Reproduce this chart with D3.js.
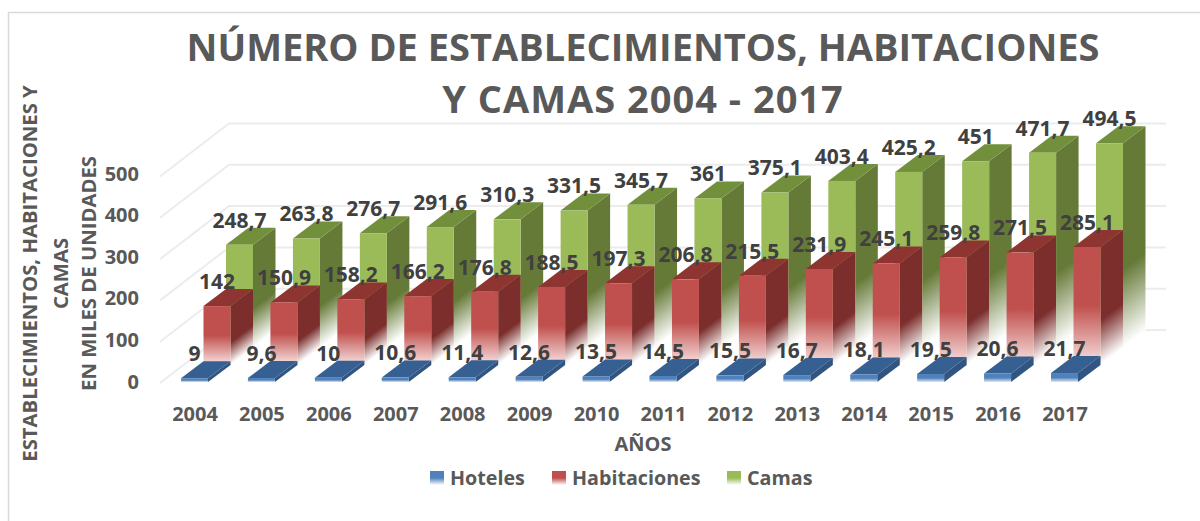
<!DOCTYPE html>
<html><head><meta charset="utf-8">
<script src="https://cdn.jsdelivr.net/npm/d3@7/dist/d3.min.js"></script>
<style>html,body{margin:0;padding:0;background:#fff}svg{display:block}text{font-family:"Open Sans",sans-serif;font-weight:700}</style>
</head><body><svg id="c" width="1200" height="521"></svg>
<script>
const years=["2004","2005","2006","2007","2008","2009","2010","2011","2012","2013","2014","2015","2016","2017"];
const hoteles=[9,9.6,10,10.6,11.4,12.6,13.5,14.5,15.5,16.7,18.1,19.5,20.6,21.7];
const habitaciones=[142,150.9,158.2,166.2,176.8,188.5,197.3,206.8,215.5,231.9,245.1,259.8,271.5,285.1];
const camas=[248.7,263.8,276.7,291.6,310.3,331.5,345.7,361,375.1,403.4,425.2,451,471.7,494.5];
const yTicks=[0,100,200,300,400,500];
const titleLines=["NÚMERO DE ESTABLECIMIENTOS, HABITACIONES","Y CAMAS 2004 - 2017"];
const titleSpacing=[0,1];
const yTitleLines=["ESTABLECIMIENTOS, HABITACIONES Y","CAMAS","EN MILES DE UNIDADES"];
const seriesNames=["Hoteles","Habitaciones","Camas"];
const seriesValues=[hoteles,habitaciones,camas];
const palette={
 Hoteles:{front:"#4f81bd",top:"#376092",side:"#2f5580",fade:"#dfe9f4"},
 Habitaciones:{front:"#c0504d",top:"#8e3431",side:"#7b2e2c",fade:"#f8e3e2"},
 Camas:{front:"#9bbb59",top:"#728f3b",side:"#667a38",fade:"#eef3e0"}
};
const svg=d3.select("#c"),defs=svg.append("defs");
const H=d3.scaleLinear().domain([0,500]).range([0,206.5]);
const X=d3.scalePoint().domain(years).range([181,1051]);
const D=d3.scalePoint().domain(seriesNames).range([0,45]);
const B=d3.scalePoint().domain(seriesNames).range([382,347.5]);
const W=27,DX=22.5,DY=17;
const fmt=v=>String(v).replace(".",",");

svg.append("rect").attr("x",8.5).attr("y",12.5).attr("width",1300).attr("height",600).attr("fill","none").attr("stroke","#d9d9d9").attr("stroke-width",1.5);

const g=svg.append("g").attr("stroke","#ececec").attr("stroke-width",2).attr("fill","none");
yTicks.forEach(t=>{
  const y=330-H(t);
  g.append("polyline").attr("points",`160,${y+53} 229,${y} 1166,${y}`);
});

let gid=0;
function vGrad(color,fade,y0,y1){
  const id="g"+(gid++);
  const gr=defs.append("linearGradient").attr("id",id).attr("gradientUnits","userSpaceOnUse").attr("x1",0).attr("x2",0).attr("y1",y0).attr("y2",y1);
  gr.append("stop").attr("offset","0").attr("stop-color",color);
  gr.append("stop").attr("offset","0.5").attr("stop-color",color);
  gr.append("stop").attr("offset","1").attr("stop-color",fade);
  return `url(#${id})`;
}
function sideGrad(color,x,y0,y1){
  const id="g"+(gid++);
  const gr=defs.append("linearGradient").attr("id",id).attr("gradientUnits","userSpaceOnUse").attr("x1",0).attr("x2",0).attr("y1",y0).attr("y2",y1)
    .attr("gradientTransform",`matrix(1,${-DY/DX},0,1,${x},0)`);
  gr.append("stop").attr("offset","0").attr("stop-color",color);
  gr.append("stop").attr("offset","0.62").attr("stop-color",color);
  gr.append("stop").attr("offset","1").attr("stop-color","#fff");
  return `url(#${id})`;
}
[2,1,0].forEach(si=>{
  const name=seriesNames[si],vals=seriesValues[si],c=palette[name];
  const layer=svg.append("g");
  vals.forEach((v,i)=>{
    const x=X(years[i])+D(name),base=B(name),top=base-H(v);
    const xr=x+W;
    layer.append("path").attr("d",`M${xr},${top}L${xr+DX},${top-DY}L${xr+DX},${base-DY}L${xr},${base}Z`)
      .attr("fill",si===0?c.side:sideGrad(c.side,xr,top,base));
    layer.append("path").attr("d",`M${x},${top}L${x+DX},${top-DY}L${xr+DX},${top-DY}L${xr},${top}Z`).attr("fill",c.top);
    layer.append("rect").attr("x",x).attr("y",top).attr("width",W).attr("height",base-top)
      .attr("fill",vGrad(c.front,c.fade,top,base));
  });
});

const lab=svg.append("g").attr("fill","#404040").attr("font-size",21).attr("text-anchor","middle");
seriesNames.forEach((name,si)=>{
  seriesValues[si].forEach((v,i)=>{
    const x=X(years[i])+D(name)+W/2,top=B(name)-H(v);
    lab.append("text").attr("x",x).attr("y",top-24.5).attr("dy","0.35em").text(fmt(v));
  });
});

const T=d3.scaleLinear().domain([0,500]).range([381.5,173.5]);
svg.append("g").attr("fill","#595959").attr("font-size",20).attr("text-anchor","end")
  .selectAll("text").data(yTicks).join("text").attr("x",139).attr("y",d=>T(d)).attr("dy","0.35em").text(d=>d);
svg.append("g").attr("fill","#595959").attr("font-size",20).attr("text-anchor","middle")
  .selectAll("text").data(years).join("text").attr("x",d=>X(d)+14).attr("y",414).attr("dy","0.35em").text(d=>d);
svg.append("text").attr("x",643).attr("y",444).attr("dy","0.35em").attr("text-anchor","middle").attr("fill","#595959").attr("font-size",20).text("AÑOS");

svg.append("g").attr("fill","#595959").attr("font-size",38).attr("text-anchor","middle")
  .selectAll("text").data(titleLines).join("text").attr("letter-spacing",(d,i)=>titleSpacing[i]).attr("x",643).attr("y",(d,i)=>48+i*52).attr("dy","0.35em").text(d=>d);

[30,61,89].forEach((x,i)=>{
  svg.append("text").attr("transform",`translate(${x},273.5) rotate(-90)`).attr("dy","0.35em").attr("text-anchor","middle")
    .attr("fill","#595959").attr("font-size",20.3).text(yTitleLines[i]);
});

const legX=[430,552,727];
seriesNames.forEach((name,i)=>{
  const id="leg"+i,gr=defs.append("linearGradient").attr("id",id).attr("x1",0).attr("x2",0).attr("y1",0).attr("y2",1);
  gr.append("stop").attr("offset","0").attr("stop-color",palette[name].front);
  gr.append("stop").attr("offset","0.5").attr("stop-color",palette[name].front);
  gr.append("stop").attr("offset","1").attr("stop-color","#fff");
  svg.append("rect").attr("x",legX[i]).attr("y",471).attr("width",14).attr("height",14).attr("fill",`url(#${id})`);
  svg.append("text").attr("x",legX[i]+20).attr("y",478).attr("dy","0.35em").attr("fill","#595959").attr("font-size",19.7).text(name);
});
</script></body></html>
